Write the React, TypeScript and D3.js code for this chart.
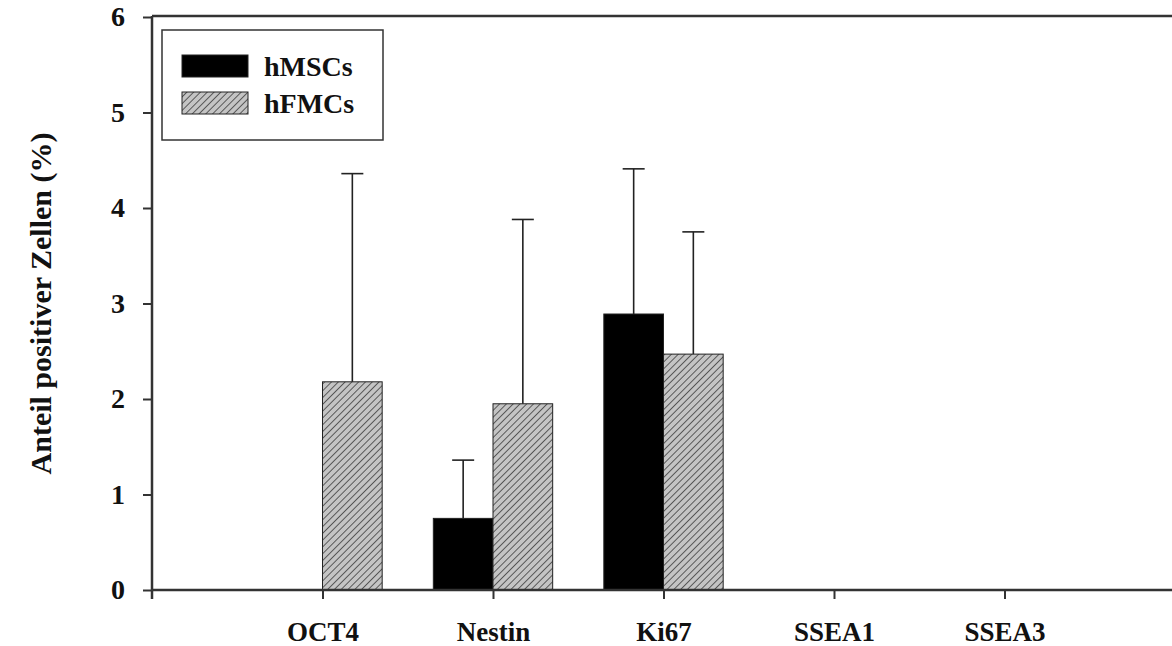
import { useEffect, useRef } from "react";
import * as d3 from "d3";

const categories = ["OCT4", "Nestin", "Ki67", "SSEA1", "SSEA3"];
const seriesNames = ["hMSCs", "hFMCs"];
const hmscValues = [0, 0.75, 2.89, 0, 0];
const hmscErrors = [0, 0.61, 1.52, 0, 0];
const hfmcValues = [2.18, 1.95, 2.47, 0, 0];
const hfmcErrors = [2.18, 1.93, 1.28, 0, 0];
const yTicks = [0, 1, 2, 3, 4, 5, 6];

export default function App() {
  const ref = useRef<SVGSVGElement | null>(null);

  useEffect(() => {
    const svg = d3.select(ref.current);
    svg.selectAll("*").remove();

    const width = 1172;
    const height = 646;
    const font = "'Liberation Serif', 'Times New Roman', serif";
    const axisColor = "#333";

    // hatch pattern for the second series
    const hs = 4.8;
    const defs = svg.append("defs");
    const pat = defs
      .append("pattern")
      .attr("id", "hatch")
      .attr("patternUnits", "userSpaceOnUse")
      .attr("width", hs)
      .attr("height", hs)
      .attr("patternTransform", "rotate(45)");
    pat.append("rect").attr("width", hs).attr("height", hs).attr("fill", "#c4c4c4");
    pat
      .append("line")
      .attr("x1", 0)
      .attr("y1", 0)
      .attr("x2", 0)
      .attr("y2", hs)
      .attr("stroke", "#111")
      .attr("stroke-width", 1.2);

    svg.append("rect").attr("width", width).attr("height", height).attr("fill", "#fff");

    // x is a linear position scale: category i sits at i + 1
    const x = d3.scaleLinear().domain([0, 6]).range([152, 1175]);
    const y = d3.scaleLinear().domain([0, 6]).range([590, 17]);
    const barW = x(0.35) - x(0);

    const series = [
      { name: seriesNames[0], values: hmscValues, errors: hmscErrors, fill: "#000", offset: -1 },
      { name: seriesNames[1], values: hfmcValues, errors: hfmcErrors, fill: "url(#hatch)", offset: 0 },
    ];

    const g = svg.append("g");

    // bars
    series.forEach((s) => {
      const rows = categories
        .map((c, i) => ({ c, i, v: s.values[i], e: s.errors[i] }))
        .filter((d) => d.v > 0);
      const cx = (d: { i: number }) => x(d.i + 1) + s.offset * barW + barW / 2;

      g.selectAll(null)
        .data(rows)
        .enter()
        .append("rect")
        .attr("x", (d) => x(d.i + 1) + s.offset * barW)
        .attr("y", (d) => y(d.v))
        .attr("width", barW)
        .attr("height", (d) => y(0) - y(d.v))
        .attr("fill", s.fill)
        .attr("stroke", "#222")
        .attr("stroke-width", 1);

      // error bars (upper only)
      const eb = g
        .selectAll(null)
        .data(rows)
        .enter()
        .append("g")
        .attr("stroke", "#222")
        .attr("stroke-width", 1.6);
      eb.append("line")
        .attr("x1", cx)
        .attr("x2", cx)
        .attr("y1", (d) => y(d.v))
        .attr("y2", (d) => y(d.v + d.e));
      eb.append("line")
        .attr("x1", (d) => cx(d) - 11)
        .attr("x2", (d) => cx(d) + 11)
        .attr("y1", (d) => y(d.v + d.e))
        .attr("y2", (d) => y(d.v + d.e));
    });

    // y axis
    const yAxis = g
      .append("g")
      .attr("transform", `translate(${x(0)},0)`)
      .call(
        d3
          .axisLeft(y)
          .tickValues(yTicks)
          .tickFormat(d3.format("d"))
          .tickSize(9)
          .tickPadding(18)
          .tickSizeOuter(0)
      );
    yAxis.select(".domain").remove();
    yAxis.selectAll(".tick line").attr("stroke", axisColor).attr("stroke-width", 2);
    yAxis
      .selectAll(".tick text")
      .attr("font-family", font)
      .attr("font-weight", "bold")
      .attr("font-size", 28)
      .attr("fill", "#111");
    g.append("line")
      .attr("x1", x(0))
      .attr("x2", x(0))
      .attr("y1", y(6) - 1)
      .attr("y2", y(0) + 9)
      .attr("stroke", axisColor)
      .attr("stroke-width", 2.5);

    // x axis
    const xAxis = g
      .append("g")
      .attr("transform", `translate(0,${y(0)})`)
      .call(
        d3
          .axisBottom(x)
          .tickValues(categories.map((_, i) => i + 1))
          .tickFormat((_, i) => categories[i])
          .tickSize(9)
          .tickPadding(23)
          .tickSizeOuter(0)
      );
    xAxis.select(".domain").remove();
    xAxis.selectAll(".tick line").attr("stroke", axisColor).attr("stroke-width", 2);
    xAxis
      .selectAll(".tick text")
      .attr("font-family", font)
      .attr("font-weight", "bold")
      .attr("font-size", 27)
      .attr("fill", "#111");
    g.append("line")
      .attr("x1", x(0))
      .attr("x2", width)
      .attr("y1", y(0))
      .attr("y2", y(0))
      .attr("stroke", axisColor)
      .attr("stroke-width", 2.5);

    // top frame line
    g.append("line")
      .attr("x1", x(0))
      .attr("x2", width)
      .attr("y1", y(6) - 1)
      .attr("y2", y(6) - 1)
      .attr("stroke", axisColor)
      .attr("stroke-width", 2.5);

    // y label
    svg
      .append("text")
      .attr("transform", `translate(51,${(y(0) + y(6)) / 2}) rotate(-90)`)
      .attr("text-anchor", "middle")
      .attr("font-family", font)
      .attr("font-weight", "bold")
      .attr("font-size", 30)
      .attr("fill", "#111")
      .text("Anteil positiver Zellen (%)");

    // legend
    const lg = svg.append("g");
    lg.append("rect")
      .attr("x", 162)
      .attr("y", 30)
      .attr("width", 221)
      .attr("height", 110)
      .attr("fill", "#fff")
      .attr("stroke", "#333")
      .attr("stroke-width", 1.5);
    series.forEach((s, i) => {
      lg.append("rect")
        .attr("x", 182)
        .attr("y", 55 + i * 37)
        .attr("width", 66)
        .attr("height", 22)
        .attr("fill", s.fill)
        .attr("stroke", "#222")
        .attr("stroke-width", 1);
      lg.append("text")
        .attr("x", 264)
        .attr("y", 76 + i * 37)
        .attr("font-family", font)
        .attr("font-weight", "bold")
        .attr("font-size", 28)
        .attr("fill", "#111")
        .text(s.name);
    });
  }, []);

  return (
    <svg
      ref={ref}
      width={1172}
      height={646}
      style={{ position: "absolute", left: 0, top: 0, display: "block" }}
    />
  );
}
